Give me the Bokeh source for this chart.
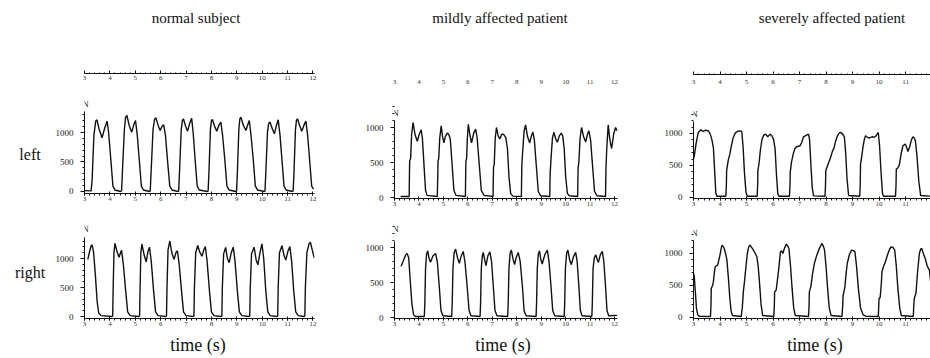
from bokeh.plotting import figure
from bokeh.layouts import row, column
from bokeh.models import FixedTicker, Range1d, Div, Spacer
from bokeh.core.properties import value
from bokeh.embed import file_html
from bokeh.resources import INLINE

# ---------------- data ----------------
titles = ["normal subject", "mildly affected patient", "severely affected patient"]
row_labels = ["left", "right"]
x_label = "time (s)"
force_unit = "N"
x_ticks = [3, 4, 5, 6, 7, 8, 9, 10, 11, 12]
y_ticks = [0, 500, 1000]

normal_left_t = [3.00, 3.26,
    3.30, 3.37, 3.44, 3.49, 3.58, 3.69, 3.80, 3.89, 3.95, 4.04, 4.12, 4.20, 4.42,
    4.46, 4.49, 4.57, 4.62, 4.67, 4.76, 4.86, 4.94, 5.01, 5.08, 5.16, 5.24, 5.32, 5.56,
    5.59, 5.62, 5.70, 5.76, 5.81, 5.90, 5.98, 6.05, 6.12, 6.19, 6.27, 6.36, 6.45, 6.68,
    6.71, 6.74, 6.81, 6.86, 6.90, 6.98, 7.06, 7.14, 7.22, 7.28, 7.36, 7.44, 7.52, 7.84,
    7.87, 7.90, 7.96, 8.00, 8.04, 8.12, 8.21, 8.29, 8.37, 8.44, 8.53, 8.61, 8.70, 8.96,
    8.99, 9.02, 9.08, 9.12, 9.16, 9.26, 9.36, 9.43, 9.49, 9.56, 9.65, 9.73, 9.82, 10.08,
    10.11, 10.14, 10.21, 10.26, 10.31, 10.40, 10.48, 10.56, 10.63, 10.70, 10.78, 10.86, 10.94, 11.19,
    11.22, 11.25, 11.31, 11.35, 11.39, 11.48, 11.56, 11.64, 11.72, 11.79, 11.87, 11.95, 12.02]
normal_left_f = [15, 10,
    200, 950, 1190, 1215, 1050, 910, 1080, 1192, 1000, 525, 90, 25, 0,
    10, 300, 1050, 1260, 1288, 1120, 1006, 1130, 1204, 950, 525, 90, 25, 0,
    10, 300, 1050, 1225, 1249, 1120, 1034, 1100, 1130, 950, 525, 90, 25, 0,
    10, 300, 1050, 1210, 1232, 1110, 1023, 1150, 1243, 1000, 525, 90, 25, 0,
    10, 300, 1050, 1200, 1220, 1110, 1023, 1120, 1175, 950, 525, 90, 25, 0,
    10, 300, 1050, 1230, 1260, 1120, 1034, 1130, 1204, 950, 525, 90, 25, 0,
    10, 300, 1020, 1160, 1175, 1060, 978, 1120, 1215, 960, 525, 90, 25, 0,
    10, 300, 1050, 1210, 1232, 1110, 1023, 1120, 1192, 950, 525, 90, 40]

normal_right_t = [3.13, 3.20, 3.26, 3.30, 3.36, 3.43, 3.50, 3.56, 3.65, 4.08,
    4.11, 4.13, 4.16, 4.20, 4.28, 4.36, 4.42, 4.46, 4.53, 4.62, 4.70, 4.80, 5.14,
    5.17, 5.19, 5.22, 5.26, 5.35, 5.43, 5.50, 5.56, 5.63, 5.72, 5.80, 5.90, 6.20,
    6.23, 6.25, 6.29, 6.36, 6.45, 6.53, 6.60, 6.66, 6.73, 6.82, 6.90, 7.00, 7.28,
    7.31, 7.33, 7.38, 7.46, 7.55, 7.63, 7.70, 7.76, 7.83, 7.92, 8.00, 8.10, 8.38,
    8.41, 8.43, 8.48, 8.56, 8.63, 8.70, 8.78, 8.86, 8.93, 9.02, 9.10, 9.20, 9.48,
    9.51, 9.53, 9.58, 9.68, 9.76, 9.83, 9.92, 9.99, 10.06, 10.14, 10.22, 10.32, 10.58,
    10.61, 10.63, 10.68, 10.78, 10.86, 10.93, 11.01, 11.09, 11.16, 11.24, 11.32, 11.42, 11.65,
    11.68, 11.70, 11.76, 11.85, 11.90, 11.97, 12.05]
normal_right_f = [984, 1120, 1220, 1234, 1100, 700, 250, 60, 15, 0,
    10, 500, 1100, 1262, 1120, 1023, 1100, 1140, 900, 450, 80, 15, 0,
    10, 500, 1100, 1250, 1060, 940, 1120, 1195, 950, 450, 80, 15, 0,
    10, 500, 1150, 1301, 1080, 984, 1100, 1134, 900, 450, 80, 15, 0,
    10, 500, 1100, 1223, 1100, 1039, 1150, 1206, 950, 450, 80, 15, 0,
    10, 500, 1080, 1190, 1000, 929, 1100, 1195, 950, 450, 80, 15, 0,
    10, 500, 1080, 1195, 980, 890, 1120, 1251, 1000, 450, 80, 15, 0,
    10, 500, 1100, 1223, 1050, 973, 1120, 1206, 950, 450, 80, 15, 0,
    10, 500, 1100, 1260, 1278, 1150, 1010]

mild_left_t = [3.25, 3.60,
    3.61, 3.62, 3.66, 3.70, 3.76, 3.84, 3.93, 4.01, 4.09, 4.14, 4.20, 4.27, 4.33, 4.75,
    4.77, 4.78, 4.81, 4.85, 4.91, 4.96, 5.02, 5.09, 5.16, 5.22, 5.28, 5.35, 5.43, 5.52, 5.90,
    5.91, 5.92, 5.95, 5.98, 6.02, 6.08, 6.15, 6.24, 6.32, 6.38, 6.46, 6.55, 6.66, 7.03,
    7.04, 7.05, 7.08, 7.12, 7.17, 7.24, 7.31, 7.38, 7.45, 7.55, 7.62, 7.68, 7.75, 7.84, 8.19,
    8.20, 8.21, 8.25, 8.30, 8.36, 8.44, 8.53, 8.60, 8.66, 8.72, 8.80, 8.88, 8.97, 9.35,
    9.36, 9.37, 9.41, 9.46, 9.52, 9.59, 9.66, 9.74, 9.82, 9.88, 9.94, 10.00, 10.07, 10.15, 10.49,
    10.50, 10.51, 10.54, 10.59, 10.65, 10.74, 10.82, 10.89, 10.95, 11.02, 11.10, 11.18, 11.28, 11.63,
    11.64, 11.65, 11.68, 11.74, 11.81, 11.88, 11.96, 12.04, 12.11]
mild_left_f = [15, 15,
    300, 520, 560, 900, 1070, 900, 803, 900, 967, 850, 500, 100, 30, 15,
    300, 520, 560, 850, 1023, 880, 780, 880, 920, 900, 840, 500, 100, 30, 15,
    300, 520, 560, 850, 1046, 900, 780, 920, 976, 850, 500, 100, 30, 15,
    250, 430, 480, 850, 1000, 880, 836, 900, 906, 860, 700, 300, 60, 20, 15,
    300, 480, 700, 950, 1037, 870, 780, 880, 934, 820, 450, 90, 25, 15,
    250, 370, 600, 850, 934, 840, 789, 880, 920, 880, 700, 300, 60, 25, 15,
    250, 430, 500, 850, 1000, 860, 794, 900, 953, 820, 450, 90, 25, 15,
    250, 430, 700, 1037, 820, 700, 900, 1000, 950]

mild_right_t = [3.27, 3.35, 3.45, 3.52, 3.58, 3.64, 3.71, 3.78, 3.86, 4.22,
    4.24, 4.27, 4.31, 4.36, 4.41, 4.47, 4.57, 4.68, 4.75, 4.83, 4.90, 4.98, 5.34,
    5.36, 5.39, 5.44, 5.50, 5.58, 5.65, 5.73, 5.81, 5.88, 5.97, 6.05, 6.13, 6.50,
    6.52, 6.55, 6.59, 6.63, 6.69, 6.74, 6.82, 6.90, 6.97, 7.04, 7.11, 7.19, 7.63,
    7.65, 7.68, 7.73, 7.78, 7.85, 7.91, 7.98, 8.06, 8.14, 8.23, 8.30, 8.38, 8.79,
    8.81, 8.84, 8.88, 8.93, 8.98, 9.04, 9.15, 9.25, 9.32, 9.40, 9.47, 9.55, 9.94,
    9.96, 9.99, 10.04, 10.09, 10.16, 10.23, 10.32, 10.41, 10.47, 10.54, 10.60, 10.67, 11.07,
    11.09, 11.12, 11.17, 11.23, 11.29, 11.34, 11.42, 11.50, 11.56, 11.63, 11.69, 11.76, 12.11]
mild_right_f = [732, 800, 890, 916, 850, 550, 200, 40, 15, 15,
    200, 700, 900, 953, 850, 788, 880, 916, 800, 450, 100, 25, 15,
    200, 700, 930, 977, 850, 774, 880, 944, 800, 450, 100, 25, 15,
    200, 700, 880, 930, 820, 741, 880, 939, 800, 450, 100, 25, 15,
    200, 700, 920, 963, 830, 755, 860, 930, 800, 450, 100, 25, 15,
    200, 700, 900, 953, 840, 765, 900, 963, 800, 450, 100, 25, 15,
    200, 700, 920, 963, 830, 755, 870, 930, 800, 450, 100, 25, 15,
    200, 700, 850, 897, 830, 788, 900, 944, 800, 450, 100, 25, 30]

severe_left_t = [3.00, 3.03, 3.10, 3.18, 3.28, 3.36, 3.44, 3.56, 3.63, 3.69, 3.75, 3.80, 3.84, 3.88, 4.22,
    4.24, 4.25, 4.31, 4.37, 4.44, 4.50, 4.58, 4.65, 4.75, 4.82, 4.87, 4.92, 4.98, 5.03, 5.40,
    5.42, 5.43, 5.48, 5.52, 5.58, 5.65, 5.72, 5.80, 5.89, 5.96, 6.02, 6.08, 6.13, 6.18, 6.22, 6.62,
    6.64, 6.65, 6.70, 6.76, 6.82, 6.89, 7.02, 7.08, 7.15, 7.25, 7.34, 7.38, 7.43, 7.48, 7.53, 7.96,
    7.98, 7.99, 8.06, 8.17, 8.24, 8.30, 8.36, 8.43, 8.50, 8.56, 8.63, 8.69, 8.74, 8.79, 8.85, 9.27,
    9.29, 9.30, 9.35, 9.39, 9.44, 9.49, 9.55, 9.62, 9.68, 9.75, 9.82, 9.88, 9.97, 10.02, 10.08, 10.13, 10.17, 10.62,
    10.64, 10.65, 10.72, 10.77, 10.84, 10.90, 10.99, 11.04, 11.09, 11.16, 11.22, 11.28, 11.33, 11.37, 11.43, 11.50, 11.57, 11.96,
    11.98, 12.08]
severe_left_f = [600, 650, 850, 1016, 1058, 1030, 1050, 1042, 990, 912, 780, 400, 80, 20, 20,
    200, 420, 580, 677, 830, 938, 1010, 1031, 1040, 1031, 800, 400, 80, 20, 20,
    200, 420, 560, 730, 900, 975, 990, 948, 990, 960, 912, 750, 350, 60, 20, 20,
    200, 400, 560, 677, 760, 792, 808, 860, 948, 970, 990, 900, 500, 150, 25, 20,
    200, 420, 500, 625, 720, 771, 880, 964, 1010, 1016, 990, 948, 700, 300, 30, 20,
    200, 520, 650, 780, 900, 964, 945, 927, 940, 948, 940, 960, 1016, 800, 350, 60, 20, 20,
    200, 440, 470, 520, 700, 808, 834, 780, 719, 800, 900, 948, 930, 886, 650, 250, 30, 20,
    580, 600]

severe_right_t = [3.00, 3.03, 3.07, 3.11, 3.16, 3.22, 3.64,
    3.66, 3.67, 3.72, 3.75, 3.79, 3.82, 3.91, 3.96, 4.01, 4.07, 4.12, 4.16, 4.21, 4.26, 4.32, 4.37, 4.42, 4.47, 4.80,
    4.84, 4.88, 4.93, 4.98, 5.03, 5.08, 5.13, 5.20, 5.26, 5.33, 5.39, 5.44, 5.48, 5.55, 5.61, 6.03,
    6.05, 6.06, 6.12, 6.17, 6.21, 6.28, 6.33, 6.37, 6.43, 6.50, 6.55, 6.60, 6.66, 6.72, 6.78, 6.84, 7.34,
    7.36, 7.37, 7.43, 7.49, 7.56, 7.65, 7.75, 7.84, 7.90, 7.94, 8.00, 8.06, 8.12, 8.19, 8.60,
    8.63, 8.64, 8.71, 8.76, 8.80, 8.88, 8.96, 9.03, 9.09, 9.15, 9.22, 9.30, 9.40, 9.50, 9.97,
    9.99, 10.00, 10.04, 10.08, 10.11, 10.17, 10.24, 10.32, 10.40, 10.46, 10.53, 10.59, 10.65, 10.71, 10.78, 10.84, 11.29,
    11.31, 11.33, 11.39, 11.45, 11.52, 11.57, 11.61, 11.67, 11.74, 11.82, 11.90, 11.96, 11.99]
severe_right_f = [700, 636, 400, 150, 40, 20, 15,
    200, 453, 500, 560, 720, 792, 818, 900, 1000, 1130, 1110, 1078, 1000, 900, 600, 300, 100, 30, 15,
    150, 400, 583, 800, 1000, 1100, 1130, 1090, 1052, 1000, 948, 800, 600, 200, 30, 15,
    200, 400, 430, 600, 740, 1026, 1040, 1000, 1080, 1146, 1120, 1078, 800, 450, 150, 30, 15,
    200, 400, 490, 680, 844, 974, 1080, 1157, 1110, 1063, 800, 450, 150, 30, 15,
    200, 330, 479, 700, 844, 980, 1052, 1045, 1026, 800, 450, 150, 40, 20, 15,
    200, 300, 310, 500, 714, 800, 870, 980, 1070, 1105, 1090, 1052, 800, 450, 150, 30, 15,
    200, 300, 375, 700, 1000, 1070, 1078, 1000, 922, 800, 740, 500, 219]

series = [
    [(normal_left_t, normal_left_f), (normal_right_t, normal_right_f)],
    [(mild_left_t, mild_left_f), (mild_right_t, mild_right_f)],
    [(severe_left_t, severe_left_f), (severe_right_t, severe_right_f)],
]

# ---------------- layout / style ----------------
SERIF = "Liberation Serif"
INK = "#111111"
TITLE_H, STRIP_H, TOP_H, BOT_H, XLAB_H = 36, 56, 122, 116, 28
LABEL_COL_W = 52

cols = [
    dict(w=288, bl=32, br=26, xend=12.06, strip_top=35, strip_line=True, strip_standoff=2,
         top=dict(bt=19, bb=21, yr=(-34, 1356), n_off=8),
         bot=dict(bt=23, bb=12, yr=(-34, 1362), n_off=9),
         title_shift=0, xlab_shift=4),
    dict(w=300, bl=54, br=23, xend=12.12, strip_top=36, strip_line=False, strip_standoff=5,
         top=dict(bt=28, bb=16, yr=(-14, 1100), n_off=8),
         bot=dict(bt=27, bb=12, yr=(-14, 1086), n_off=13),
         title_shift=20, xlab_shift=26),
    dict(w=290, bl=53, br=0, xend=11.94, strip_top=36, strip_line=True, strip_standoff=5,
         top=dict(bt=29, bb=16, yr=(-16, 1187), n_off=8),
         bot=dict(bt=26, bb=12, yr=(-16, 1203), n_off=8),
         title_shift=94, xlab_shift=60),
]

x_minor = [round(3 + 0.2 * i, 2) for i in range(46)]
y_minor = [100 * i for i in range(14)]


def text_div(txt, w, h, size, line_h):
    return Div(text=txt, width=w, height=h, margin=0,
               styles={"font-family": SERIF, "font-size": size, "line-height": line_h,
                       "text-align": "center", "color": "#111111", "white-space": "nowrap",
                       "overflow": "visible", "padding": "0", "margin": "0"})


def shifted_div(txt, w, h, shift, size, line_h):
    d = text_div(txt, w - shift, h, size, line_h)
    if shift > 0:
        return row(Spacer(width=shift, height=h, margin=0), d, spacing=0)
    return d


def base_fig(w, h, bl, br, bt, bb, xr, yr):
    p = figure(width=w, height=h, x_range=Range1d(*xr), y_range=Range1d(*yr),
               output_backend="svg", toolbar_location=None,
               min_border_left=bl, min_border_right=br,
               min_border_top=bt, min_border_bottom=bb)
    p.outline_line_color = None
    p.background_fill_color = "white"
    p.border_fill_color = "white"
    p.xgrid.visible = False
    p.ygrid.visible = False
    return p


def style_x(ax, size="7px"):
    ax.ticker = FixedTicker(ticks=x_ticks, minor_ticks=x_minor)
    ax.axis_line_color = INK
    ax.major_tick_line_color = INK
    ax.minor_tick_line_color = INK
    ax.major_label_text_font = SERIF
    ax.major_label_text_font_size = size
    ax.major_label_text_color = "#333333"


def strip_fig(c):
    h = STRIP_H
    p = base_fig(c["w"], h, c["bl"], c["br"], c["strip_top"], h - c["strip_top"] - 2,
                 (3, c["xend"]), (0, 1))
    p.yaxis.visible = False
    ax = p.xaxis[0]
    style_x(ax)
    ax.major_tick_in = 3
    ax.major_tick_out = 0
    ax.minor_tick_in = 1
    ax.minor_tick_out = 0
    ax.major_label_standoff = c["strip_standoff"]
    if not c["strip_line"]:
        ax.axis_line_color = None
        ax.major_tick_line_color = None
        ax.minor_tick_line_color = None
    return p


def plot_fig(c, spec, h, t, f):
    y0, y1 = spec["yr"]
    frame_h = h - spec["bt"] - spec["bb"]
    scale = frame_h / (y1 - y0)
    ext = spec["n_off"] + 8
    y_top = y1 + ext / scale
    p = base_fig(c["w"], h, c["bl"], c["br"], spec["bt"] - ext, spec["bb"],
                 (3, c["xend"]), (y0, y_top))
    p.line(t, f, line_color=INK, line_width=1.4)
    ax = p.xaxis[0]
    style_x(ax)
    ax.major_tick_in = 2
    ax.major_tick_out = 2
    ax.minor_tick_in = 0
    ax.minor_tick_out = 2
    ax.major_label_standoff = 1
    ay = p.yaxis[0]
    ay.bounds = (y0, y1)
    ay.ticker = FixedTicker(ticks=y_ticks, minor_ticks=y_minor)
    ay.axis_line_color = INK
    ay.major_tick_line_color = INK
    ay.minor_tick_line_color = INK
    ay.major_tick_in = 0
    ay.major_tick_out = 4
    ay.minor_tick_in = 0
    ay.minor_tick_out = 2
    ay.major_label_standoff = 7
    ay.major_label_text_font = SERIF
    ay.major_label_text_font_size = "9px"
    ay.major_label_text_color = "#222222"
    p.text(x=[3], y=[y1 + spec["n_off"] / scale], text=[force_unit], x_offset=1,
           text_font=value(SERIF), text_font_size=value("9px"), text_color="#222222",
           text_align="center", text_baseline="middle")
    return p


def label_row(txt):
    return row(Spacer(width=8, height=30, margin=0),
               text_div(txt, LABEL_COL_W - 8, 30, "16px", "30px"), spacing=0)


# row-label column
label_col = column(
    Spacer(width=LABEL_COL_W, height=140, margin=0),
    label_row(row_labels[0]),
    Spacer(width=LABEL_COL_W, height=88, margin=0),
    label_row(row_labels[1]),
    Spacer(width=LABEL_COL_W, height=70, margin=0),
    spacing=0)

columns = [label_col]
for ci, c in enumerate(cols):
    title = shifted_div(titles[ci], c["w"], TITLE_H, c["title_shift"], "15px", "36px")
    s = strip_fig(c)
    (tl, fl), (tr, fr) = series[ci]
    a = plot_fig(c, c["top"], TOP_H, tl, fl)
    b = plot_fig(c, c["bot"], BOT_H, tr, fr)
    xl = shifted_div(x_label, c["w"], XLAB_H, c["xlab_shift"], "18px", "30px")
    columns.append(column(title, s, a, b, xl, spacing=0))

p = row(*columns, spacing=0)

open("out.html", "w").write(file_html(p, INLINE))
